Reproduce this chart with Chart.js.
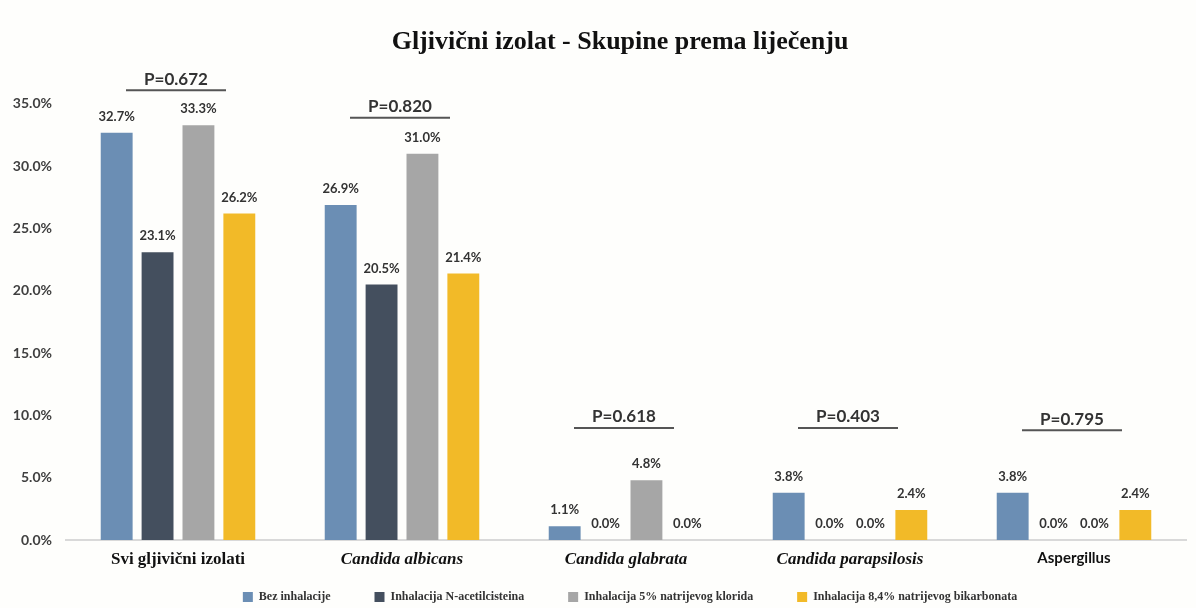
<!DOCTYPE html>
<html>
<head>
<meta charset="utf-8">
<script src="https://cdn.jsdelivr.net/npm/chart.js@4"></script>
<style>
  html, body { margin: 0; padding: 0; background: #fefefc; }
  #wrap { width: 1196px; height: 608px; }
</style>
</head>
<body>
<div id="wrap"><canvas id="chart"></canvas></div>
<script>
// Podaci
const naslov = 'Gljivični izolat - Skupine prema liječenju';
const kategorije = ['Svi gljivični izolati', 'Candida albicans', 'Candida glabrata', 'Candida parapsilosis', 'Aspergillus'];
const bezInhalacije = [32.7, 26.9, 1.1, 3.8, 3.8];
const nAcetilcistein = [23.1, 20.5, 0.0, 0.0, 0.0];
const natrijKlorid = [33.3, 31.0, 4.8, 0.0, 0.0];
const natrijBikarbonat = [26.2, 21.4, 0.0, 2.4, 2.4];
const pVrijednosti = ['P=0.672', 'P=0.820', 'P=0.618', 'P=0.403', 'P=0.795'];
const pRazine = [36.1, 33.9, 9.0, 9.0, 8.8];
const yTicks = [0, 5, 10, 15, 20, 25, 30, 35];

const sans = 'Lato, "Open Sans", sans-serif';
const serif = '"Liberation Serif", "Times New Roman", serif';

// Naslov centriran iznad područja grafa
const chartTitle = {
    id: 'chartTitle',
    afterDraw(chart) {
        const ctx = chart.ctx;
        const area = chart.chartArea;
        ctx.save();
        ctx.font = 'bold 26px ' + serif;
        ctx.fillStyle = '#111';
        ctx.textAlign = 'center';
        ctx.textBaseline = 'middle';
        ctx.fillText(naslov, (area.left + area.right) / 2 - 6, 42);
        ctx.restore();
    }
};

// Oznake vrijednosti iznad stupaca
const dataLabels = {
    id: 'dataLabels',
    afterDatasetsDraw(chart) {
        const ctx = chart.ctx;
        ctx.save();
        ctx.font = 'bold 13px ' + sans;
        ctx.fillStyle = '#333';
        ctx.textAlign = 'center';
        ctx.textBaseline = 'middle';
        chart.data.datasets.forEach((ds, i) => {
            chart.getDatasetMeta(i).data.forEach((bar, j) => {
                ctx.fillText(ds.data[j].toFixed(1) + '%', bar.x, bar.y - 16);
            });
        });
        ctx.restore();
    }
};

// P vrijednosti s crtom ispod
const pLabels = {
    id: 'pLabels',
    afterDraw(chart) {
        const ctx = chart.ctx;
        const xs = chart.scales.x, ys = chart.scales.y;
        ctx.save();
        ctx.font = 'bold 17px ' + sans;
        ctx.fillStyle = '#333';
        ctx.strokeStyle = '#555';
        ctx.lineWidth = 2;
        ctx.textAlign = 'center';
        ctx.textBaseline = 'middle';
        pVrijednosti.forEach((txt, i) => {
            const x = xs.getPixelForValue(i) - 2;
            const y = ys.getPixelForValue(pRazine[i]);
            ctx.beginPath();
            ctx.moveTo(x - 50, y);
            ctx.lineTo(x + 50, y);
            ctx.stroke();
            ctx.fillText(txt, x, y - 11);
        });
        ctx.restore();
    }
};

// Legenda na dnu
const bottomLegend = {
    id: 'bottomLegend',
    afterDraw(chart) {
        const ctx = chart.ctx;
        const area = chart.chartArea;
        ctx.save();
        ctx.font = 'bold 12px ' + serif;
        ctx.textBaseline = 'middle';
        const gap = 44, box = 10, boxGap = 6;
        const items = chart.data.datasets.map(ds => ({
            text: ds.label, color: ds.backgroundColor,
            w: box + boxGap + ctx.measureText(ds.label).width
        }));
        const total = items.reduce((s, it) => s + it.w, 0) + gap * (items.length - 1);
        let x = (area.left + area.right) / 2 - total / 2 + 4;
        const y = 597;
        items.forEach(it => {
            ctx.fillStyle = it.color;
            ctx.fillRect(x, y - box / 2, box, box);
            ctx.fillStyle = '#333';
            ctx.textAlign = 'left';
            ctx.fillText(it.text, x + box + boxGap, y);
            x += it.w + gap;
        });
        ctx.restore();
    }
};

new Chart(document.getElementById('chart'), {
    type: 'bar',
    data: {
        labels: kategorije,
        datasets: [
            { label: 'Bez inhalacije', data: bezInhalacije, backgroundColor: '#6b8eb4' },
            { label: 'Inhalacija N-acetilcisteina', data: nAcetilcistein, backgroundColor: '#444f5e' },
            { label: 'Inhalacija 5% natrijevog klorida', data: natrijKlorid, backgroundColor: '#a6a6a6' },
            { label: 'Inhalacija 8,4% natrijevog bikarbonata', data: natrijBikarbonat, backgroundColor: '#f2ba28' }
        ]
    },
    options: {
        responsive: true,
        maintainAspectRatio: false,
        animation: false,
        categoryPercentage: 0.73,
        barPercentage: 0.78,
        layout: { padding: { left: 0, right: 10, top: 66.6, bottom: 0 } },
        scales: {
            x: {
                grid: { display: false, drawTicks: false },
                border: { display: true, color: '#d9d9d9', width: 2 },
                ticks: {
                    color: '#111',
                    padding: 9,
                    maxRotation: 0,
                    font: (c) => {
                        if (c.index === 0) return { family: serif, size: 17, weight: 'bold' };
                        if (c.index === 4) return { family: sans, size: 15, weight: 'bold' };
                        return { family: serif, size: 17, weight: 'bold', style: 'italic' };
                    }
                },
                afterFit: (s) => { s.height = 68; }
            },
            y: {
                min: 0,
                max: 38,
                grid: { display: false, drawTicks: false },
                border: { display: false },
                afterBuildTicks: (s) => { s.ticks = yTicks.map(v => ({ value: v })); },
                afterFit: (s) => { s.width = 66; },
                ticks: {
                    color: '#404040',
                    padding: 14,
                    font: { family: sans, size: 14, weight: 'bold' },
                    callback: (v) => v.toFixed(1) + '%'
                }
            }
        },
        plugins: {
            legend: { display: false },
            tooltip: { enabled: false },
            title: { display: false }
        }
    },
    plugins: [chartTitle, dataLabels, pLabels, bottomLegend]
});
</script>
</body>
</html>
